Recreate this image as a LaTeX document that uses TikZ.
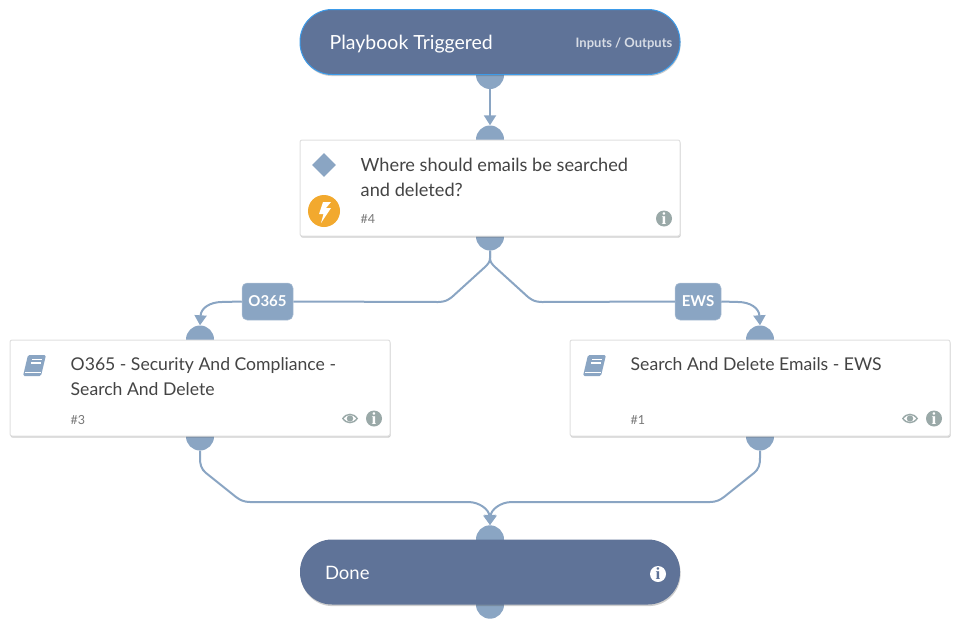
\documentclass[tikz,border=0pt]{standalone}
\usepackage{fontspec}
\setmainfont{Lato}
\newfontfamily\slabfont{Liberation Serif}
\usetikzlibrary{positioning, arrows.meta, shapes.geometric, shadows, backgrounds}
\definecolor{flowblue}{HTML}{8AA5C3}
\definecolor{capblue}{HTML}{5F7398}
\definecolor{glowblue}{HTML}{3D9BE9}
\definecolor{inktext}{HTML}{444444}
\definecolor{hashgray}{HTML}{777777}
\definecolor{icongray}{HTML}{9AA9A8}
\definecolor{boltorange}{HTML}{F2A92E}

\begin{document}
\begin{tikzpicture}[x=1pt, y=-1pt, on grid,
    softshadow/.style={drop shadow={shadow xshift=0.6pt, shadow yshift=-1.6pt, opacity=.28, fill=black!70}},
    endcap/.style={rounded corners=32pt, minimum width=380pt, minimum height=65pt,
        fill=capblue, softshadow},
    taskcard/.style={rounded corners=2pt, minimum width=380pt, minimum height=96pt,
        fill=white, draw=black!12, line width=1pt, softshadow},
    port/.style={circle, fill=flowblue, minimum size=28pt, inner sep=0pt},
    flow/.style={draw=flowblue, line width=2pt, -{Triangle[length=10pt, width=12pt]}},
    flowplain/.style={draw=flowblue, line width=2pt},
    cond/.style={rounded corners=5pt, fill=flowblue, draw=flowblue!70!white, line width=.5pt,
        minimum height=37pt, text=white, font=\fontsize{15}{15}\selectfont\bfseries, inner sep=0pt},
    tasktitle/.style={anchor=north west, align=left, inner sep=0pt, text=inktext,
        font=\fontsize{17.6}{25}\selectfont},
    captitle/.style={anchor=west, inner sep=0pt, text=white, font=\fontsize{18.5}{22}\selectfont},
    tasknum/.style={anchor=west, inner sep=0pt, text=hashgray, font=\fontsize{12.5}{14}\selectfont},
    infoicon/.style={circle, fill=icongray, minimum size=16pt, inner sep=0pt, text=white,
        font=\fontsize{17}{17}\slabfont\bfseries},
    bookicon/.pic={
        \fill[flowblue, rounded corners=1.5pt] (-6.5,-10.5) -- (11.5,-10.5) -- (6.5,10.5) -- (-11.5,10.5) -- cycle;
        \draw[white, line width=1pt] (-9.5,6.5) -- (6,6.5);
        \draw[white, line width=1.2pt] (-2.5,-6) -- (7,-6) (-3.5,-2.5) -- (6,-2.5);
    },
    eyeicon/.pic={
        \fill[icongray, even odd rule] (-8,0) .. controls (-4,-6.5) and (4,-6.5) .. (8,0)
            .. controls (4,6.5) and (-4,6.5) .. (-8,0)
            (-6.5,0) .. controls (-3,-4.5) and (3,-4.5) .. (6.5,0)
            .. controls (3,4.5) and (-3,4.5) .. (-6.5,0);
        \fill[icongray] (0,0) circle (3.2);
    }]
    \useasboundingbox (0,0) rectangle (960,629);

    % cards
    \node[endcap, draw=glowblue, line width=1pt] (trigger) at (490,42) {};
    \node[taskcard] (task4) [below=146pt of trigger] {};
    \node[taskcard] (task3) [below left=200pt and 290pt of task4] {};
    \node[taskcard] (task1) [below right=200pt and 270pt of task4] {};
    \node[endcap] (done) [below=384pt of task4] {};

    % ports sit behind the cards
    \begin{scope}[on background layer]
        \node[port] (trigger_out) at (trigger.south) {};
        \node[port] (task4_in) at (task4.north) {};
        \node[port] (task4_out) at (task4.south) {};
        \node[port] (task3_in) at (task3.north) {};
        \node[port] (task3_out) at (task3.south) {};
        \node[port] (task1_in) at (task1.north) {};
        \node[port] (task1_out) at (task1.south) {};
        \node[port] (done_in) at (done.north) {};
        \node[port] (done_out) at (done.south) {};
    \end{scope}

    % texts
    \node[captitle, font=\fontsize{19.5}{22}\selectfont] (trigger_title) at ([xshift=30pt, yshift=-2pt]trigger.west) {Playbook Triggered};
    \node[anchor=east, inner sep=0pt, text=white!75!capblue, font=\fontsize{13}{14}\selectfont\bfseries]
        (trigger_io) at ([xshift=-8pt, yshift=-2pt]trigger.east) {Inputs / Outputs};
    \node[tasktitle, font=\fontsize{18.2}{25}\selectfont] (task4_title) at ([xshift=61pt, yshift=-18pt]task4.north west)
        {Where should emails be searched\\and deleted?};
    \node[tasktitle] (task3_title) at ([xshift=61pt, yshift=-18pt]task3.north west)
        {O365 - Security And Compliance -\\Search And Delete};
    \node[tasktitle] (task1_title) at ([xshift=61pt, yshift=-18pt]task1.north west)
        {Search And Delete Emails - EWS};
    \node[captitle] (done_title) at ([xshift=25pt, yshift=-1pt]done.west) {Done};
    \node[tasknum] (task4_num) at ([xshift=61pt, yshift=17pt]task4.south west) {\#4};
    \node[tasknum] (task3_num) at ([xshift=61pt, yshift=16pt]task3.south west) {\#3};
    \node[tasknum] (task1_num) at ([xshift=61pt, yshift=16pt]task1.south west) {\#1};

    % icons
    \node[diamond, fill=flowblue, minimum size=24pt, inner sep=0pt] (task4_kind) at (324,165) {};
    \node[circle, fill=boltorange, minimum size=32pt, inner sep=0pt] (task4_bolt) at (324,211) {};
    \fill[white] (331,202) -- (323,202) -- (319,214) -- (323.5,214) -- (321,223) -- (331,208) -- (326,208) -- cycle;
    \pic at (34.5,365.5) {bookicon};
    \pic at (594.5,365.5) {bookicon};
    \pic at (350,418.5) {eyeicon};
    \pic at (910,418.5) {eyeicon};
    \node[infoicon] (task4_info) at (664,218.5) {i};
    \node[infoicon] (task3_info) at (374,418.5) {i};
    \node[infoicon] (task1_info) at (934,418.5) {i};
    \node[infoicon, fill=white, text=capblue] (done_info) at (658,574) {i};

    % connectors
    \node[cond, minimum width=51pt] (cond_o365) at (267.5,301.5) {O365};
    \node[cond, minimum width=46pt] (cond_ews) at (698,301.5) {EWS};
    \path[flow] (trigger_out.south) -- (task4_in.north);
    \path[flowplain] (task4_out.south) -- (490,258) .. controls (490,262) and (488,264) .. (485,267)
        -- (452,297) .. controls (448,300) and (445,302) .. (438,302) -- (cond_o365.east);
    \path[flowplain] (task4_out.south) -- (490,258) .. controls (490,262) and (492,264) .. (495,267)
        -- (528,297) .. controls (532,300) and (535,302) .. (542,302) -- (cond_ews.west);
    \path[flow] (cond_o365.west) -- (222,302) .. controls (210,302) and (201,308) .. (task3_in.north);
    \path[flow] (cond_ews.east) -- (738,302) .. controls (750,302) and (759,308) .. (task1_in.north);
    \path[flow] (task3_out.south) -- (200,458) .. controls (200,464) and (201,469) .. (206,473)
        -- (236,497) .. controls (240,500) and (244,502) .. (250,502) -- (468,502)
        .. controls (480,502) and (489,510) .. (done_in.north);
    \path[flow] (task1_out.south) -- (760,458) .. controls (760,464) and (759,469) .. (754,473)
        -- (724,497) .. controls (720,500) and (716,502) .. (710,502) -- (512,502)
        .. controls (500,502) and (491,510) .. (done_in.north);
\end{tikzpicture}
\end{document}
